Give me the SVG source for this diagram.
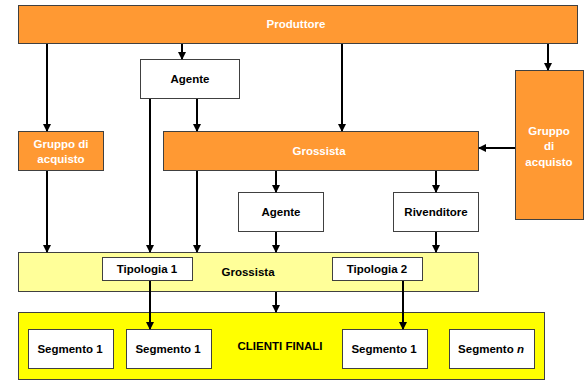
<svg xmlns="http://www.w3.org/2000/svg" width="587" height="382" viewBox="0 0 587 382">
<style>
.o{fill:#FF9933;stroke:#404040;stroke-width:1}
.w{fill:#FFFFFF;stroke:#404040;stroke-width:1}
.ly{fill:#FFFF99;stroke:#404040;stroke-width:1}
.y{fill:#FFFF00;stroke:#404040;stroke-width:1}
text{font-family:"Liberation Sans",Arial,sans-serif;font-weight:bold;font-size:11.5px;text-anchor:middle}
.tw{fill:#FFFFFF}
.tb{fill:#000000}
.c{stroke:#000;stroke-width:2;fill:none;marker-end:url(#a)}
</style>
<defs>
<marker id="a" markerWidth="8" markerHeight="8" refX="7" refY="4" orient="auto" markerUnits="userSpaceOnUse">
<path d="M0,0 L8,4 L0,8 Z" fill="#000"/>
</marker>
</defs>
<g id="produttore"><rect class="o" x="18.5" y="5.5" width="559" height="38"/><text class="tw" x="296" y="28">Produttore</text></g>
<g id="agente1"><rect class="w" x="140.5" y="59.5" width="99" height="39"/><text class="tb" x="190" y="83">Agente</text></g>
<g id="gruppo1"><rect class="o" x="18.5" y="131.5" width="85" height="39"/><text class="tw" x="61" y="148">Gruppo di</text><text class="tw" x="61" y="163">acquisto</text></g>
<g id="grossista1"><rect class="o" x="163.5" y="131.5" width="315" height="39"/><text class="tw" x="319" y="155">Grossista</text></g>
<g id="gruppo2"><rect class="o" x="515.5" y="70.5" width="68" height="149"/><text class="tw" x="549" y="135">Gruppo</text><text class="tw" x="549" y="150">di</text><text class="tw" x="549" y="166">acquisto</text></g>
<g id="agente2"><rect class="w" x="238.5" y="192.5" width="85" height="39"/><text class="tb" x="281" y="216">Agente</text></g>
<g id="rivenditore"><rect class="w" x="393.5" y="192.5" width="85" height="39"/><text class="tb" x="436" y="216">Rivenditore</text></g>
<g id="grossista2"><rect class="ly" x="18.5" y="252.5" width="460" height="39"/><text class="tb" x="248" y="276">Grossista</text></g>
<g id="tipologia1"><rect class="w" x="102.5" y="257.5" width="90" height="23"/><text class="tb" x="147" y="273">Tipologia 1</text></g>
<g id="tipologia2"><rect class="w" x="332.5" y="257.5" width="90" height="23"/><text class="tb" x="377" y="273">Tipologia 2</text></g>
<g id="clienti"><rect class="y" x="18.5" y="312.5" width="526" height="67"/><text class="tb" x="280" y="350">CLIENTI FINALI</text></g>
<g id="seg1"><rect class="w" x="28.5" y="329.5" width="85" height="39"/><text class="tb" x="70" y="353">Segmento 1</text></g>
<g id="seg2"><rect class="w" x="126.5" y="329.5" width="85" height="39"/><text class="tb" x="168" y="353">Segmento 1</text></g>
<g id="seg3"><rect class="w" x="342.5" y="329.5" width="85" height="39"/><text class="tb" x="384" y="353">Segmento 1</text></g>
<g id="segn"><rect class="w" x="449.5" y="329.5" width="85" height="39"/><text class="tb" x="491" y="353">Segmento <tspan font-style="italic">n</tspan></text></g>
<g id="connectors">
<line class="c" x1="47" y1="44" x2="47" y2="131"/>
<line class="c" x1="182" y1="44" x2="182" y2="59"/>
<line class="c" x1="342" y1="44" x2="342" y2="131"/>
<line class="c" x1="548" y1="44" x2="548" y2="70"/>
<line class="c" x1="197" y1="99" x2="197" y2="131"/>
<line class="c" x1="150" y1="99" x2="150" y2="252"/>
<line class="c" x1="47" y1="171" x2="47" y2="252"/>
<line class="c" x1="197" y1="171" x2="197" y2="252"/>
<line class="c" x1="276" y1="171" x2="276" y2="192"/>
<line class="c" x1="436" y1="171" x2="436" y2="192"/>
<line class="c" x1="276" y1="232" x2="276" y2="252"/>
<line class="c" x1="436" y1="232" x2="436" y2="252"/>
<line class="c" x1="515" y1="148" x2="479" y2="148"/>
<line class="c" x1="150" y1="281" x2="150" y2="329"/>
<line class="c" x1="276" y1="292" x2="276" y2="312"/>
<line class="c" x1="403" y1="281" x2="403" y2="329"/>
</g>
</svg>
